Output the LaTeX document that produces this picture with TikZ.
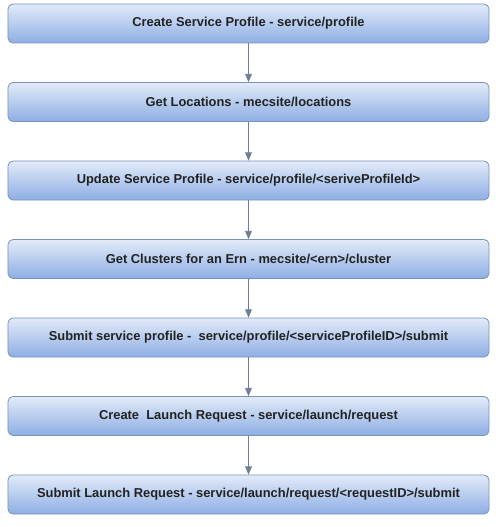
\documentclass[tikz,border=0pt]{standalone}
\usepackage{fontspec}
\setmainfont{Liberation Sans}
\usetikzlibrary{arrows}
\definecolor{cajaarriba}{HTML}{E2EBF9}
\definecolor{cajaabajo}{HTML}{8EAEE4}
\definecolor{borde}{HTML}{7A93BD}
\definecolor{flecha}{HTML}{6F7F99}
\definecolor{texto}{HTML}{222222}
\tikzset{
	paso/.style={draw=borde, line width=0.8bp, rounded corners=5bp, top color=cajaarriba, bottom color=cajaabajo, minimum width=481bp, minimum height=39bp, inner sep=0pt, text=texto, font=\fontsize{12.9bp}{14bp}\selectfont\bfseries},
	enlace/.style={draw=flecha, line width=0.9bp, ->, >=triangle 45}
}
\begin{document}
\begin{tikzpicture}[x=1bp,y=-1bp]
		\useasboundingbox[fill=white] (0,0) rectangle (496,527); %marco
		\node[paso] (perfil) at (248.5,23.5) {Create Service Profile - service/profile}; %paso 1
		\node[paso] (lugares) at (248.5,102) {Get Locations - mecsite/locations};
		\node[paso] (actualizar) at (248.5,180.5) {Update Service Profile - service/profile/<seriveProfileId>};
		\node[paso] (clusters) at (248.5,259) {Get Clusters for an Ern - mecsite/<ern>/cluster};
		\node[paso] (enviar) at (248.5,337.5) {Submit service profile -\ \ service/profile/<serviceProfileID>/submit};
		\node[paso] (lanzar) at (248.5,416) {Create\ \ Launch Request - service/launch/request};
		\node[paso] (solicitud) at (248.5,494.5) {Submit Launch Request - service/launch/request/<requestID>/submit}; %paso 7
		\draw[enlace] (perfil) -- (lugares); %flechas
		\draw[enlace] (lugares) -- (actualizar);
		\draw[enlace] (actualizar) -- (clusters);
		\draw[enlace] (clusters) -- (enviar);
		\draw[enlace] (enviar) -- (lanzar);
		\draw[enlace] (lanzar) -- (solicitud);
\end{tikzpicture}
\end{document}
